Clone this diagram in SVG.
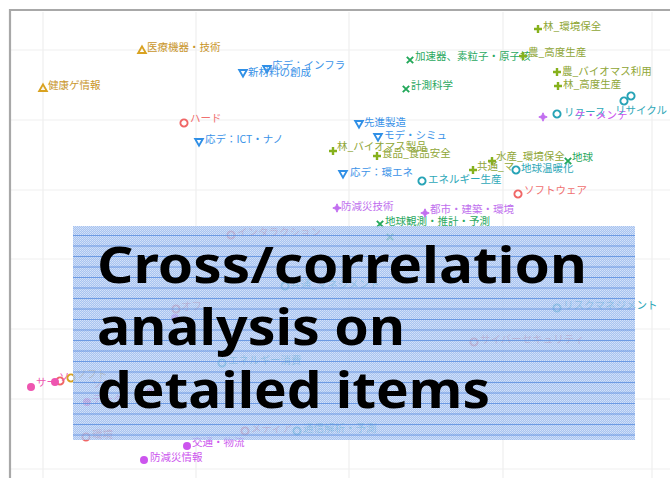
<svg xmlns="http://www.w3.org/2000/svg" xmlns:xlink="http://www.w3.org/1999/xlink" width="670" height="478" viewBox="0 0 670 478">
  <style>
    .grid { stroke: #efefef; stroke-width: 1.2; fill: none; }
    .frame { stroke: #a8a8a8; stroke-width: 2.2; fill: none; }
    .lbl { font-family: "Noto Sans CJK JP", "Noto Sans", sans-serif; font-size: 10.5px; }
    .gold { stroke: #d9a220; fill: #c9962c; }
    .blue { stroke: #2f8fe6; fill: #3b93e8; }
    .green { stroke: #23a85a; fill: #2aa860; }
    .olive { stroke: #86b11c; fill: #8fa636; }
    .red { stroke: #f06666; fill: #f07070; }
    .teal { stroke: #26a3b6; fill: #2ea8b8; }
    .purple { stroke: #c46ef2; fill: #c070ee; }
    .pink { stroke: #ee44aa; fill: #ee55b0; }
    .violet { stroke: #cc44ee; fill: #cc55ee; }
    .lbl.gold, .lbl.blue, .lbl.green, .lbl.olive, .lbl.red, .lbl.teal, .lbl.purple, .lbl.pink, .lbl.violet { stroke: none; }
    .mk { stroke-width: 1.9; }
    .rule { stroke: #5e90e0; stroke-width: 1; fill: none; opacity: 0.85; }
    .title { font-family: "Noto Sans", "Open Sans", sans-serif; font-weight: bold; font-size: 51px; fill: #000; }
  </style>
  <defs>
    <path id="m-up" d="M0,-3.6 L3.8,3 L-3.8,3Z" fill="none"/>
    <path id="m-down" d="M-3.8,-3 L3.8,-3 L0,3.6Z" fill="none"/>
    <path id="m-x" d="M-3.2,-3.2 L3.2,3.2 M-3.2,3.2 L3.2,-3.2" fill="none"/>
    <path id="m-plus" d="M-4,0 L4,0 M0,-4 L0,4" fill="none" stroke-width="2.4"/>
    <circle id="m-o" r="3.6" fill="none"/>
    <path id="m-star" d="M0,-4.2 L1.3,-1.3 L4.2,0 L1.3,1.3 L0,4.2 L-1.3,1.3 L-4.2,0 L-1.3,-1.3Z" stroke-width="1"/>
    <circle id="m-dot" r="4" stroke="none"/>
    <pattern id="dots" width="2" height="2" patternUnits="userSpaceOnUse">
      <rect width="2" height="2" fill="#92b4ec"/>
      <rect width="1" height="1" fill="#c9dbf7"/>
      <rect x="1" y="1" width="1" height="1" fill="#bcd2f4"/>
    </pattern>
  </defs>

  <rect width="670" height="478" fill="#ffffff"/>

  <!-- plot grid -->
  <g id="grid">
    <path class="grid" d="M43,12 V478 M196,12 V478 M349,12 V478 M503,12 V478 M652,12 V478"/>
    <path class="grid" d="M11,50 H670 M11,120 H670 M11,190 H670 M11,259 H670 M11,329 H670 M11,399 H670 M11,469 H670"/>
  </g>
  <path id="plot-frame" class="frame" d="M10,478 V10 H670"/>

  <!-- data points -->
  <g id="points">
    <g class="gold mk">
      <use href="#m-up" x="142" y="50"/><use href="#m-up" x="43" y="88"/>
    </g>
    <text class="lbl gold" x="147" y="51">医療機器・技術</text>
    <text class="lbl gold" x="48" y="89">健康ゲ情報</text>

    <g class="blue mk">
      <use href="#m-down" x="243" y="73"/><use href="#m-down" x="267" y="69"/>
      <use href="#m-down" x="199" y="142"/><use href="#m-down" x="359" y="124"/>
      <use href="#m-down" x="378" y="137"/><use href="#m-down" x="343" y="174"/>
    </g>
    <text class="lbl blue" x="248" y="76">新材料の創成</text>
    <text class="lbl blue" x="272" y="69">応デ：インフラ</text>
    <text class="lbl blue" x="205" y="143">応デ：ICT・ナノ</text>
    <text class="lbl blue" x="364" y="126">先進製造</text>
    <text class="lbl blue" x="384" y="139">モデ・シミュ</text>
    <text class="lbl blue" x="350" y="176">応デ：環エネ</text>

    <g class="green mk">
      <use href="#m-x" x="410" y="60"/><use href="#m-x" x="406" y="89"/>
      <use href="#m-x" x="568" y="161"/><use href="#m-x" x="380" y="224"/>
      <use href="#m-x" x="390" y="237"/>
    </g>
    <text class="lbl green" x="415" y="60">加速器、素粒子・原子核</text>
    <text class="lbl green" x="411" y="89">計測科学</text>
    <text class="lbl green" x="572" y="161">地球</text>
    <text class="lbl green" x="385" y="225">地球観測・推計・予測</text>

    <g class="olive mk">
      <use href="#m-plus" x="538" y="29"/><use href="#m-plus" x="523" y="56"/>
      <use href="#m-plus" x="557" y="72"/><use href="#m-plus" x="558" y="86"/>
      <use href="#m-plus" x="333" y="151"/><use href="#m-plus" x="377" y="156"/>
      <use href="#m-plus" x="473" y="170"/><use href="#m-plus" x="492" y="161"/>
    </g>
    <text class="lbl olive" x="543" y="30">林_環境保全</text>
    <text class="lbl olive" x="528" y="56">農_高度生産</text>
    <text class="lbl olive" x="562" y="75">農_バイオマス利用</text>
    <text class="lbl olive" x="563" y="88">林_高度生産</text>
    <text class="lbl olive" x="337" y="150">林_バイオマス製品</text>
    <text class="lbl olive" x="382" y="157">食品_食品安全</text>
    <text class="lbl olive" x="477" y="170">共通_マ</text>
    <text class="lbl olive" x="496" y="160">水産_環境保全</text>

    <g class="red mk">
      <use href="#m-o" x="184" y="123"/><use href="#m-o" x="518" y="194"/>
    </g>
    <text class="lbl red" x="190" y="122">ハード</text>
    <text class="lbl red" x="524" y="194">ソフトウェア</text>

    <g class="teal mk">
      <use href="#m-o" x="557" y="114"/><use href="#m-o" x="624" y="101"/>
      <use href="#m-o" x="631" y="96"/><use href="#m-o" x="422" y="181"/>
      <use href="#m-o" x="516" y="170"/><use href="#m-o" x="557" y="308"/>
    </g>
    <text class="lbl teal" x="564" y="116">リユース</text>
    <text class="lbl violet" x="575" y="119">ケ・メンテ</text>
    <text class="lbl teal" x="615" y="114">リサイクル</text>
    <text class="lbl teal" x="428" y="183">エネルギー生産</text>
    <text class="lbl teal" x="521" y="172">地球温暖化</text>
    <text class="lbl teal" x="563" y="309">リスクマネジメント</text>

    <g class="purple mk">
      <use href="#m-star" x="543" y="117"/><use href="#m-star" x="337" y="208"/>
      <use href="#m-star" x="425" y="213"/>
    </g>
    <text class="lbl purple" x="341" y="210">防減災技術</text>
    <text class="lbl purple" x="430" y="213">都市・建築・環境</text>

    <!-- points lying under the caption panel -->
    <g class="red mk">
      <use href="#m-o" x="231" y="235"/><use href="#m-o" x="176" y="309"/>
      <use href="#m-o" x="474" y="342"/><use href="#m-o" x="86" y="437"/>
      <use href="#m-o" x="245" y="431"/><use href="#m-o" x="60" y="381"/>
    </g>
    <text class="lbl red" x="237" y="236">インタラクション</text>
    <text class="lbl red" x="181" y="310">オフ</text>
    <text class="lbl red" x="480" y="343">サイバーセキュリティ</text>
    <text class="lbl red" x="92" y="438">環境</text>
    <text class="lbl red" x="251" y="432">メディア</text>
    <text class="lbl red" x="92" y="388">ソフト</text>

    <g class="teal mk">
      <use href="#m-o" x="222" y="363"/><use href="#m-o" x="297" y="431"/>
      <use href="#m-o" x="285" y="286"/>
    </g>
    <text class="lbl teal" x="228" y="364">エネルギー消費</text>
    <text class="lbl teal" x="303" y="432">通信解析・予測</text>
    <text class="lbl teal" x="290" y="288">共通_マネジメント</text>

    <g class="pink">
      <use href="#m-dot" x="31" y="387"/><use href="#m-dot" x="55" y="382"/>
      <use href="#m-dot" x="87" y="402"/><use href="#m-dot" x="150" y="392"/>
    </g>
    <text class="lbl pink" x="36" y="386">サー</text>
    <text class="lbl pink" x="59" y="381">ソ</text>
    <text class="lbl pink" x="92" y="403">データ</text>
    <g class="gold mk"><use href="#m-o" x="71" y="378"/></g>
    <text class="lbl gold" x="76" y="378">ソフト</text>

    <g class="violet">
      <use href="#m-dot" x="187" y="446"/><use href="#m-dot" x="144" y="460"/>
      <use href="#m-dot" x="175" y="318"/>
    </g>
    <text class="lbl violet" x="192" y="446">交通・物流</text>
    <text class="lbl violet" x="150" y="461">防減災情報</text>
  </g>

  <!-- caption panel: dotted blue fill ruled with horizontal lines -->
  <g id="caption">
    <rect x="73" y="226" width="562" height="214" fill="url(#dots)" opacity="0.8"/>
    <path class="rule" d="M73,235.5 H635 M73,246 H635 M73,256.5 H635 M73,267 H635 M73,277.5 H635 M73,288 H635 M73,298.5 H635 M73,309 H635 M73,319.5 H635 M73,330 H635 M73,340.5 H635 M73,351 H635 M73,361.5 H635 M73,372 H635 M73,382.5 H635 M73,393 H635 M73,403.5 H635 M73,414 H635 M73,424.5 H635 M73,435 H635"/>
    <text class="title" x="97" y="283" textLength="490" lengthAdjust="spacingAndGlyphs">Cross/correlation</text>
    <text class="title" x="97" y="345" textLength="308" lengthAdjust="spacingAndGlyphs">analysis on</text>
    <text class="title" x="97" y="408" textLength="393" lengthAdjust="spacingAndGlyphs">detailed items</text>
  </g>
</svg>
